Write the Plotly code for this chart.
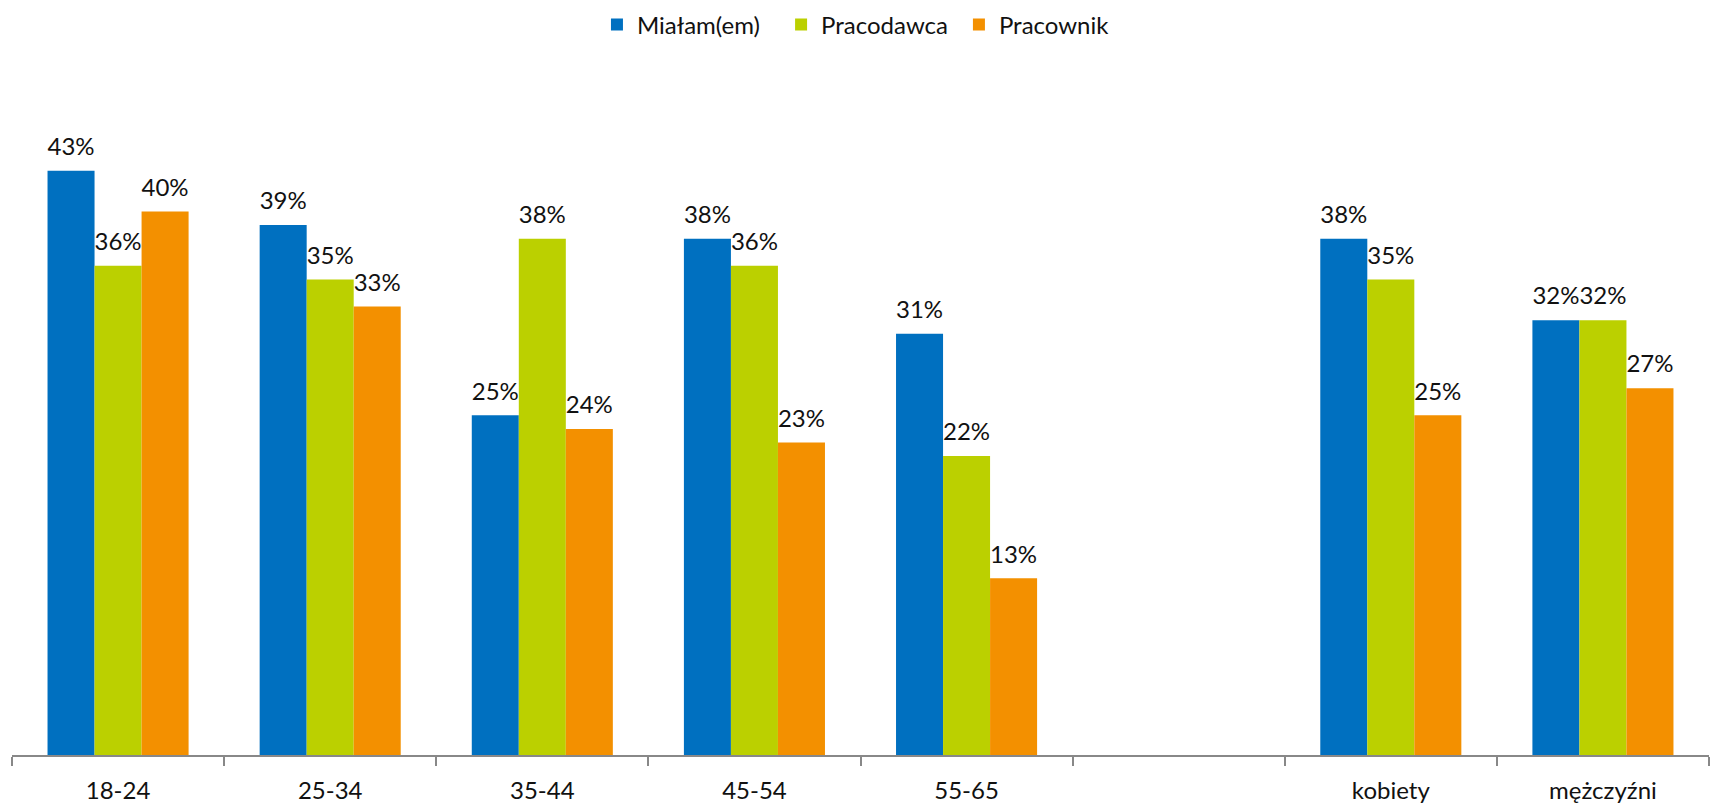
import plotly.graph_objects as go

categories = ["18-24", "25-34", "35-44", "45-54", "55-65", " ", "kobiety", "mężczyźni"]
mialam = [43, 39, 25, 38, 31, None, 38, 32]
pracodawca = [36, 35, 38, 36, 22, None, 35, 32]
pracownik = [40, 33, 24, 23, 13, None, 25, 27]

series = [
    ("Miałam(em)", mialam, "#0070C0", "legend", 0.3447),
    ("Pracodawca", pracodawca, "#BBD000", "legend2", 0.4532),
    ("Pracownik", pracownik, "#F39000", "legend3", 0.5580),
]

FONT = "Lato, Open Sans, sans-serif"

fig = go.Figure()
for i, (name, vals, color, leg, _) in enumerate(series):
    fig.add_trace(go.Bar(
        name=name,
        x=categories,
        y=vals,
        marker=dict(color=color, line=dict(width=0)),
        offsetgroup=str(i),
        legend=leg,
    ))
# value labels, grouped the same way as the bars and lifted by an invisible marker
for i, (name, vals, color, leg, _) in enumerate(series):
    fig.add_trace(go.Scatter(
        x=categories,
        y=vals,
        mode="markers+text",
        text=[f"{v}%" if v is not None else "" for v in vals],
        textposition="top center",
        textfont=dict(family=FONT, size=24, color="#111111"),
        marker=dict(size=14, opacity=0),
        offsetgroup=str(i),
        showlegend=False,
        hoverinfo="skip",
        cliponaxis=False,
    ))

legend_common = dict(
    orientation="h",
    xanchor="left",
    y=1.08, yanchor="middle",
    font=dict(family=FONT, size=24, color="#111111"),
    itemwidth=30,
    bgcolor="rgba(0,0,0,0)",
)

fig.update_layout(
    width=1711,
    height=806,
    barmode="group",
    bargap=0.335,
    bargroupgap=0,
    scattermode="group",
    scattergap=0.335,
    plot_bgcolor="white",
    paper_bgcolor="white",
    margin=dict(l=12, r=2, t=60, b=46),
    font=dict(family=FONT, size=22, color="#111111"),
    legend=dict(x=series[0][4], **legend_common),
    legend2=dict(x=series[1][4], **legend_common),
    legend3=dict(x=series[2][4], **legend_common),
)

fig.update_xaxes(
    type="category",
    categoryorder="array",
    categoryarray=categories,
    showline=True,
    linecolor="#888888",
    linewidth=1.5,
    ticks="outside",
    tickson="boundaries",
    ticklen=9,
    tickcolor="#888888",
    tickwidth=1.5,
    ticklabelstandoff=13,
    tickfont=dict(family=FONT, size=24, color="#111111"),
    showgrid=False,
)
fig.update_yaxes(
    range=[0, 49.75],
    visible=False,
    showgrid=False,
    zeroline=False,
)

fig.write_html("out.html")
